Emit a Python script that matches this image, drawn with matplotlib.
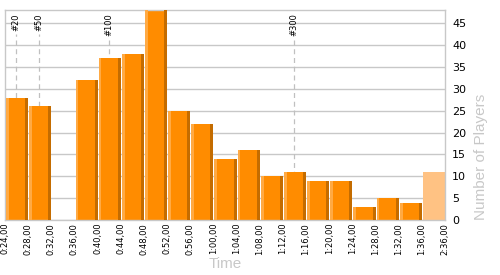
import numpy as np
import matplotlib
matplotlib.use("Agg")
import matplotlib.pyplot as plt

# Data
edge_labels = ["0:24,00", "0:28,00", "0:32,00", "0:36,00", "0:40,00", "0:44,00",
               "0:48,00", "0:52,00", "0:56,00", "1:00,00", "1:04,00", "1:08,00",
               "1:12,00", "1:16,00", "1:20,00", "1:24,00", "1:28,00", "1:32,00",
               "1:36,00", "2:36,00"]
edge_minutes = [24, 28, 32, 36, 40, 44, 48, 52, 56, 60, 64, 68, 72, 76, 80, 84, 88, 92, 96, 156]
players = [28, 26, 0, 32, 37, 38, 48, 25, 22, 14, 16, 10, 11, 9, 9, 3, 5, 4, 11]
marker_labels = ["#20", "#50", "#100", "#300"]
marker_minutes = [25.9, 29.9, 42.0, 73.9]
marker_tops = [0.885, 0.885, 0.865, 0.875]

main_c = "#FF8C00"
light_c = "#FFAA44"
dark_c = "#C46C00"
last_c = "#FFC283"
grid_c = "#C8C8C8"

fig = plt.figure(figsize=(5, 2.75), dpi=100)
ax = fig.add_axes([0.01, 0.2, 0.88, 0.7636])

n = len(players)
idx = np.arange(n)
ymax = 48
ax.set_xlim(0, n)
ax.set_ylim(0, ymax)

ax.set_yticks(np.arange(0, 50, 5))
ax.yaxis.grid(True, color=grid_c, linewidth=1)
ax.set_axisbelow(True)

# marker lines
mpos = np.interp(marker_minutes, edge_minutes, np.arange(len(edge_minutes)))
for x, lab, top in zip(mpos, marker_labels, marker_tops):
    ax.plot([x, x], [0, top * ymax], color="#C0C0C0", linestyle=(0, (4, 3)),
            linewidth=0.9, zorder=1)
    ax.text(x, ymax - 0.8, lab, rotation=90, ha="center", va="top",
            fontsize=6, color="black", zorder=1)

w = 0.955
left_strip = 0.12
right_strip = 0.13
for i, v in enumerate(players):
    x0 = i + (1 - w)
    if i == n - 1:
        ax.bar(x0, v, width=w, align="edge", color=last_c, zorder=2, linewidth=0)
        continue
    ax.bar(x0, v, width=w, align="edge", color=main_c, zorder=2, linewidth=0)
    ax.bar(x0, v, width=left_strip, align="edge", color=light_c, zorder=3, linewidth=0)
    ax.bar(x0 + w - right_strip, v, width=right_strip, align="edge", color=dark_c,
           zorder=3, linewidth=0)

ax.set_xticks(np.arange(len(edge_labels)))
ax.set_xticklabels(edge_labels, rotation=90, fontsize=6, va="top", ha="center")
ax.tick_params(axis="x", length=0, pad=2)

ax.yaxis.tick_right()
ax.yaxis.set_label_position("right")
ax.tick_params(axis="y", length=0, pad=5, labelsize=8, labelright=True, labelleft=False)

for s in ["top", "left", "right", "bottom"]:
    ax.spines[s].set_color(grid_c)
    ax.spines[s].set_linewidth(1)

ax.set_ylabel("Number of Players", fontsize=11, color="#C8C8C8", labelpad=6,
              loc="bottom", family="Liberation Sans")
ax.set_xlabel("Time", fontsize=11, color="#C8C8C8", labelpad=2,
              family="Liberation Sans")

fig.savefig("out.png", dpi=100)
